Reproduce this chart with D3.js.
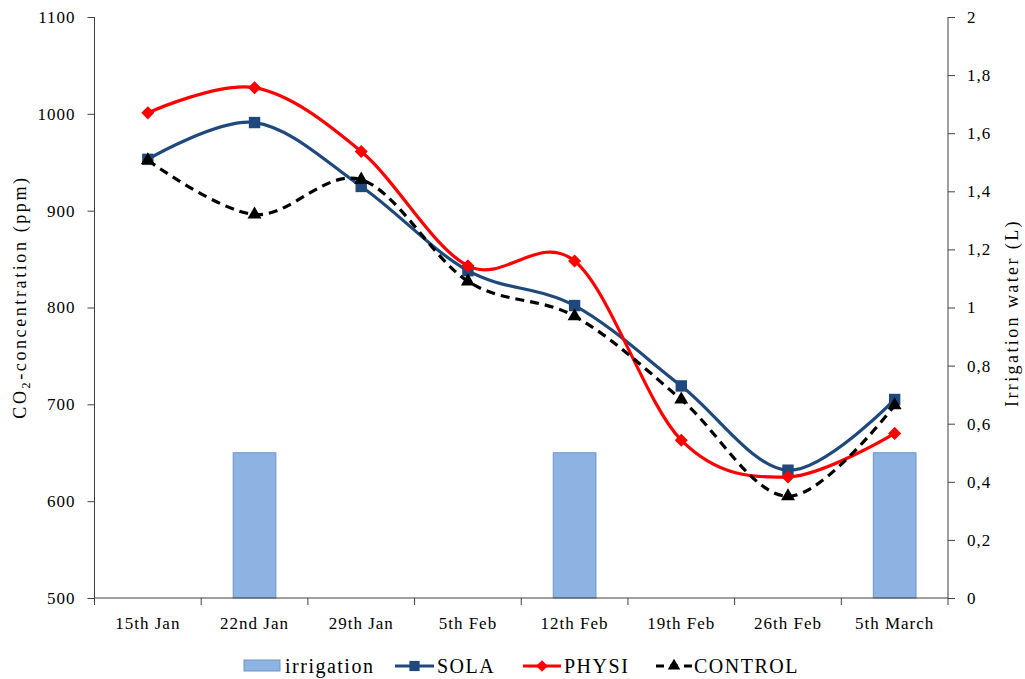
<!DOCTYPE html>
<html><head><meta charset="utf-8">
<script src="https://cdn.jsdelivr.net/npm/d3@7"></script>
<style>body{margin:0;background:#fff}svg{display:block}text{font-family:"Liberation Serif","Times New Roman",serif;fill:#000}</style>
</head><body>
<script>
const categories = ["15th Jan","22nd Jan","29th Jan","5th Feb","12th Feb","19th Feb","26th Feb","5th March"];
const irrigation = [0, 0.5, 0, 0, 0.5, 0, 0, 0.5];
const sola = [953, 991, 925, 838, 802, 719, 632, 705];
const physi = [1001, 1027, 961, 843, 848, 663, 625, 670];
const control = [952, 896, 932, 827, 791, 705, 605, 699];
const leftTicks = [500,600,700,800,900,1000,1100];
const rightTicks = [0,0.2,0.4,0.6,0.8,1,1.2,1.4,1.6,1.8,2];

const W=1025,H=679, L=94.5, R=948, T=17, B=598;
const svg=d3.select("body").append("svg").attr("width",W).attr("height",H);
const x=d3.scaleBand().domain(categories).range([L,R]);
const yL=d3.scaleLinear().domain([500,1100]).range([B,T]);
const yR=d3.scaleLinear().domain([0,2]).range([B,T]);

// bars
svg.append("g").selectAll("rect").data(categories.map((c,i)=>({c,v:irrigation[i]})).filter(d=>d.v>0))
 .join("rect").attr("x",d=>x(d.c)+x.bandwidth()*0.3).attr("width",x.bandwidth()*0.4)
 .attr("y",d=>yR(d.v)).attr("height",d=>B-yR(d.v))
 .attr("fill","#8DB3E2").attr("stroke","#6A95CC").attr("stroke-width",1);

// axes
const ax=svg.append("g");
const gl=ax.append("g").attr("transform",`translate(${L},0)`).call(d3.axisLeft(yL).tickValues(leftTicks).tickSize(7).tickPadding(12).tickFormat(d3.format("d")));
const gr=ax.append("g").attr("transform",`translate(${R},0)`).call(d3.axisRight(yR).tickValues(rightTicks).tickSize(7).tickPadding(12).tickFormat(d=>String(+d.toFixed(1)).replace(".",",")));
const gx=ax.append("g").attr("transform",`translate(0,${B})`).call(d3.axisBottom(x).tickSize(0).tickPadding(19));
[gl,gr,gx].forEach(g=>g.attr("font-size",17).attr("font-family","Liberation Serif"));
ax.selectAll(".tick text").attr("fill","#000").attr("letter-spacing","1px");
// x ticks at band boundaries
gx.selectAll("line.bt").data(d3.range(categories.length+1)).join("line").attr("class","bt")
 .attr("x1",i=>L+i*x.step()).attr("x2",i=>L+i*x.step()).attr("y1",0).attr("y2",7).attr("stroke","#404040");
ax.selectAll(".domain").attr("stroke","#404040");
ax.selectAll(".tick line").attr("stroke","#404040");
gl.select(".domain").attr("d",`M0,${T}V${B}`);
gr.select(".domain").attr("d",`M0,${T}V${B}`);
gx.select(".domain").attr("d",`M${L},0H${R}`);

// titles
const tl=svg.append("text").attr("transform",`translate(26,297) rotate(-90)`).attr("text-anchor","middle").attr("font-size",18).attr("letter-spacing","2.6px");
tl.append("tspan").text("CO");
tl.append("tspan").attr("font-size",12).attr("dy",4).text("2");
tl.append("tspan").attr("dy",-4).text("-concentration  (ppm)");
svg.append("text").attr("transform",`translate(1018,313) rotate(-90)`).attr("text-anchor","middle").attr("font-size",18).attr("letter-spacing","2.4px").text("Irrigation water (L)");

// lines
const cx=i=>x(categories[i])+x.bandwidth()/2;
const line=d3.line().x((d,i)=>cx(i)).y(d=>yL(d)).curve(d3.curveCardinal.tension(0));
const series=[
 {name:"SOLA",data:sola,color:"#1F497D",dash:null,sym:d3.symbolSquare,size:130,rot:0},
 {name:"PHYSI",data:physi,color:"#FF0000",dash:null,sym:d3.symbolSquare,size:85,rot:45},
 {name:"CONTROL",data:control,color:"#000000",dash:"9,6",sym:d3.symbolTriangle,size:85,rot:0}
];
series.forEach(s=>{
 svg.append("path").datum(s.data).attr("d",line).attr("fill","none").attr("stroke",s.color).attr("stroke-width",3.2).attr("stroke-dasharray",s.dash);
 svg.append("g").selectAll("path").data(s.data).join("path")
  .attr("transform",(d,i)=>`translate(${cx(i)},${yL(d)}) rotate(${s.rot})`)
  .attr("d",d3.symbol().type(s.sym).size(s.size)).attr("fill",s.color);
});

// legend
const lg=svg.append("g").attr("font-size",20).attr("letter-spacing","1.5px");
const ly=666;
lg.append("rect").attr("x",244).attr("y",ly-6).attr("width",36).attr("height",11).attr("fill","#8DB3E2").attr("stroke","#6A95CC");
lg.append("text").attr("x",285).attr("y",ly+7).text("irrigation");
const items=[{s:series[0],x0:395,x1:434,tx:437},{s:series[1],x0:523,x1:561,tx:564},{s:series[2],x0:656,x1:692,tx:694}];
items.forEach(it=>{
 lg.append("line").attr("x1",it.x0).attr("x2",it.x1).attr("y1",ly).attr("y2",ly).attr("stroke",it.s.color).attr("stroke-width",3.2).attr("stroke-dasharray",it.s.dash?"8,6":null);
 lg.append("path").attr("transform",`translate(${(it.x0+it.x1)/2},${ly}) rotate(${it.s.rot})`).attr("d",d3.symbol().type(it.s.sym).size(it.s.size*0.8)).attr("fill",it.s.color);
 lg.append("text").attr("x",it.tx).attr("y",ly+7).text(it.s.name);
});
</script>
</body></html>
